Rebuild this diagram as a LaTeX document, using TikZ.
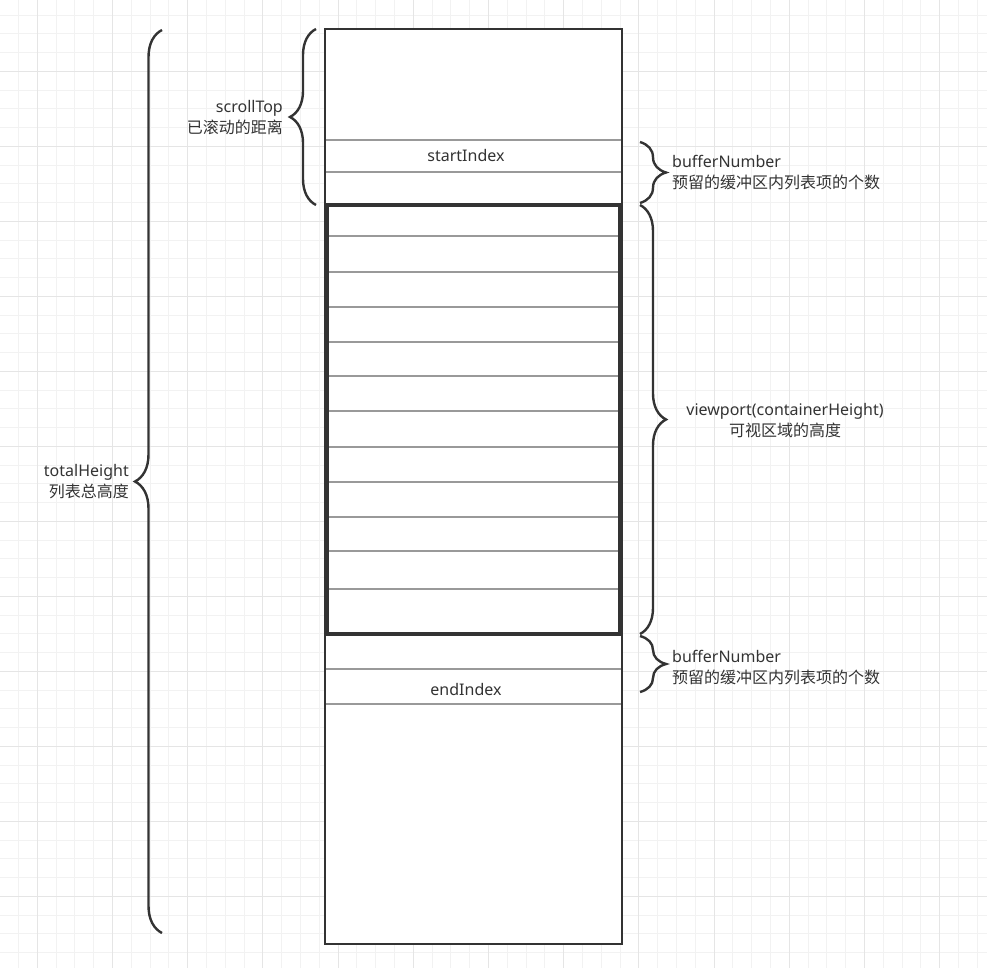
\documentclass[tikz,border=0pt]{standalone}
\usepackage{fontspec}
\setmainfont{Noto Sans}
\newfontfamily\cjk{Noto Sans CJK SC}
\usepackage{tikz}
\usetikzlibrary{decorations.pathreplacing}
\definecolor{ink}{HTML}{333333}
\definecolor{rowgray}{HTML}{999999}
\definecolor{gridminor}{HTML}{F2F2F2}
\definecolor{gridmajor}{HTML}{E5E5E5}

\begin{document}
\begin{tikzpicture}[x = 1pt, y = -1pt,
  curly/.style = {draw = ink, line width = 2.4pt, decorate, decoration = {brace, amplitude = #1}},
  rowline/.style = {draw = rowgray, line width = 1.1pt},
  lbl/.style = {text = ink, font = \fontsize{16}{21}\selectfont, inner sep = 0pt}]
\useasboundingbox (0,0) rectangle (987,968);
% background grid
\foreach \k in {0,...,53} \draw[gridminor, line width = 0.8pt] ({56+18.8*(\k-3)},0) -- ({56+18.8*(\k-3)},968);
\foreach \k in {0,...,52} \draw[gridminor, line width = 0.8pt] (0,{90+18.75*(\k-5)}) -- (987,{90+18.75*(\k-5)});
\foreach \k in {-1,3,...,51} \draw[gridmajor, line width = 0.8pt] ({56+18.8*(\k)},0) -- ({56+18.8*(\k)},968);
\foreach \k in {-1,3,...,51} \draw[gridmajor, line width = 0.8pt] (0,{90+18.75*(\k)}) -- (987,{90+18.75*(\k)});

% the list
\draw[ink, fill = white, line width = 2.6pt] (325,29) rectangle (622,944);
\foreach \y in {140,172,669,704} \draw[rowline] (326,\y) -- (621,\y);
\foreach \y in {236,272,307,342,376,411,447,482,517,551,589} \draw[rowline] (326,\y) -- (622,\y);
\draw[ink, line width = 3.2pt] (327,205) rectangle (620,634);
\node[lbl] (start) at (466,156) {startIndex};
\node[lbl] (end) at (466,689) {endIndex};

% braces
\coordinate (tot-b) at (162,933);
\coordinate (tot-a) at (162,30);
\coordinate (scr-b) at (316,205);
\coordinate (scr-a) at (316,29);
\coordinate (buf1-a) at (640,142);
\coordinate (buf1-b) at (640,203);
\coordinate (view-a) at (640,205);
\coordinate (view-b) at (640,634);
\coordinate (buf2-a) at (640,636);
\coordinate (buf2-b) at (640,692);
\draw[curly = 27pt] (tot-b) -- (tot-a);
\draw[curly = 26pt] (scr-b) -- (scr-a);
\draw[curly = 26pt] (buf1-a) -- (buf1-b);
\draw[curly = 26pt] (view-a) -- (view-b);
\draw[curly = 26pt] (buf2-a) -- (buf2-b);

% labels
\node[lbl, anchor = east, align = right] (total) at (129,482) {totalHeight\\{\cjk 列表总高度}};
\node[lbl, anchor = east, align = right] (scroll) at (283,118) {scrollTop\\{\cjk 已滚动的距离}};
\node[lbl, anchor = west, align = left] (buf1) at (672,173) {bufferNumber\\{\cjk 预留的缓冲区内列表项的个数}};
\node[lbl, align = center] (view) at (785,421) {viewport(containerHeight)\\{\cjk 可视区域的高度}};
\node[lbl, anchor = west, align = left] (buf2) at (672,668) {bufferNumber\\{\cjk 预留的缓冲区内列表项的个数}};
\end{tikzpicture}
\end{document}
